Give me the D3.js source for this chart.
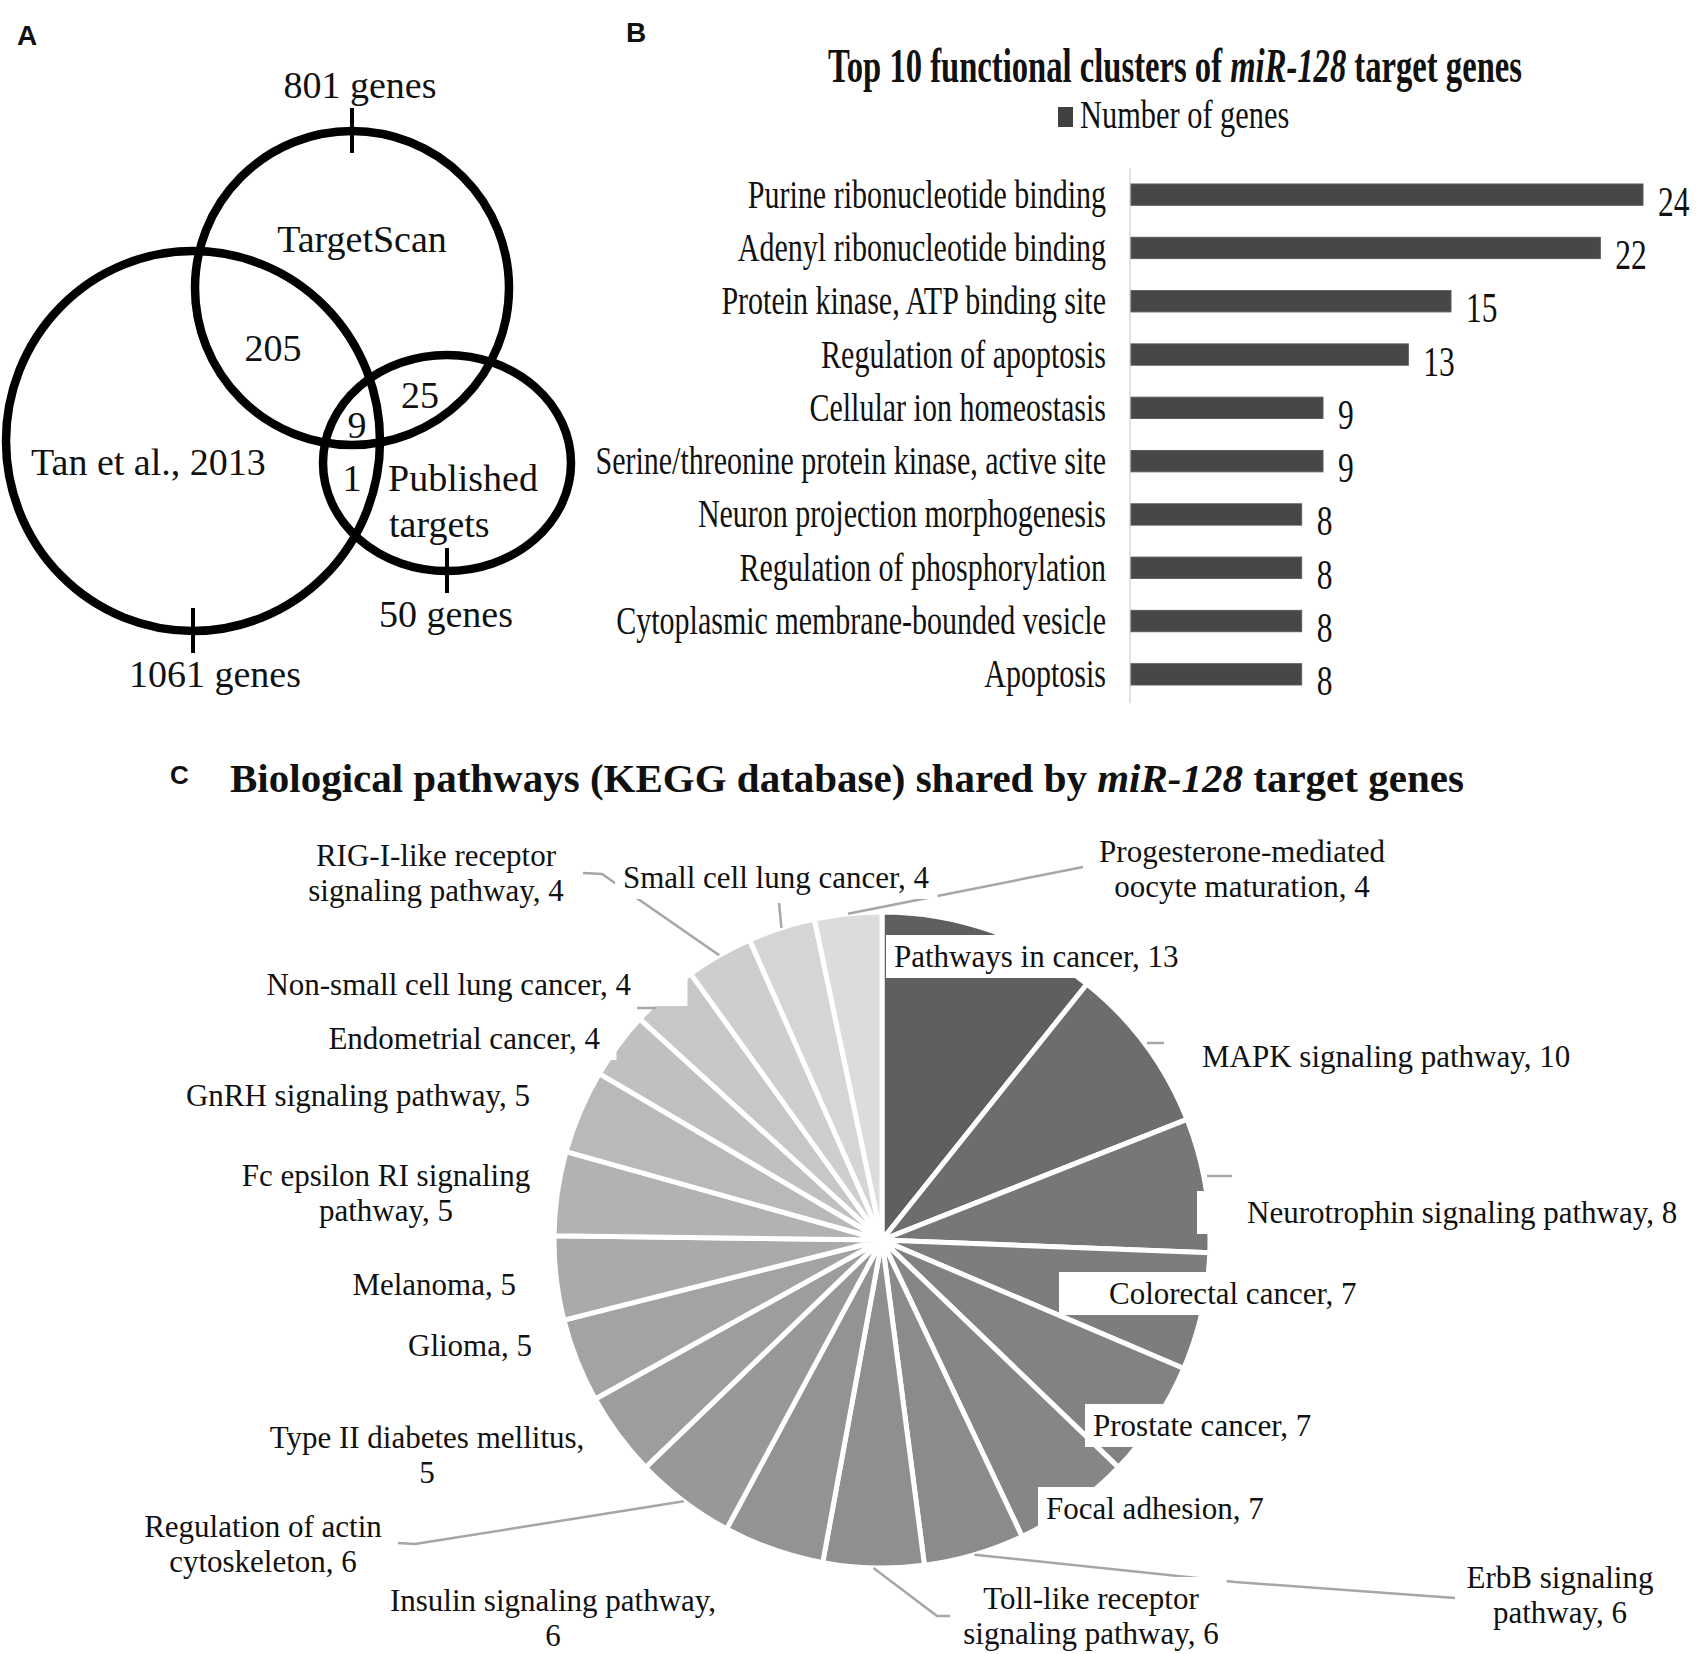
<!DOCTYPE html>
<html lang="en">
<head>
<meta charset="UTF-8" />
<title>miR-128 target genes</title>
<script src="https://cdn.jsdelivr.net/npm/d3@7"></script>
<style>
  body { margin: 0; background: #fff; }
  text { font-family: "Liberation Serif", "Times New Roman", serif; fill: #111; }
  .panel { font-family: "Liberation Sans", Arial, sans-serif; font-weight: bold; font-size: 28px; }
</style>
</head>
<body>
<svg id="fig" width="1700" height="1654"></svg>
<script>
// ---- panel A : venn ----
const vennSets = ["TargetScan", "Tan et al., 2013", "Published targets"];
const vennTotals = [801, 1061, 50];
const vennOverlaps = [205, 25, 9, 1]; // TS&Tan, TS&Pub, all three, Tan&Pub

// ---- panel B : functional clusters ----
const clusters = [
  "Purine ribonucleotide binding",
  "Adenyl ribonucleotide binding",
  "Protein kinase, ATP binding site",
  "Regulation of apoptosis",
  "Cellular ion homeostasis",
  "Serine/threonine protein kinase, active site",
  "Neuron projection morphogenesis",
  "Regulation of phosphorylation",
  "Cytoplasmic membrane-bounded vesicle",
  "Apoptosis"
];
const clusterGenes = [24, 22, 15, 13, 9, 9, 8, 8, 8, 8];

// ---- panel C : KEGG pathways ----
const pathways = [
  "Pathways in cancer", "MAPK signaling pathway", "Neurotrophin signaling pathway",
  "Colorectal cancer", "Prostate cancer", "Focal adhesion", "ErbB signaling pathway",
  "Toll-like receptor signaling pathway", "Insulin signaling pathway",
  "Regulation of actin cytoskeleton", "Type II diabetes mellitus", "Glioma", "Melanoma",
  "Fc epsilon RI signaling pathway", "GnRH signaling pathway", "Endometrial cancer",
  "Non-small cell lung cancer", "RIG-I-like receptor signaling pathway",
  "Small cell lung cancer", "Progesterone-mediated oocyte maturation"
];
const pathwayGenes = [13, 10, 8, 7, 7, 7, 6, 6, 6, 6, 5, 5, 5, 5, 5, 4, 4, 4, 4, 4];
const pathwayGrays = ["#5f5f5f", "#6d6d6d", "#777777", "#7d7d7d", "#828282", "#868686",
  "#8b8b8b", "#8f8f8f", "#939393", "#989898", "#9d9d9d", "#a3a3a3", "#aaaaaa", "#b2b2b2",
  "#b9b9b9", "#c0c0c0", "#c7c7c7", "#cecece", "#d5d5d5", "#dcdcdc"];

const svg = d3.select("#fig");

// panel B text is condensed horizontally like the original figure
function narrowText(parent, x, y, k, size) {
  return parent.append("text")
    .attr("transform", `translate(${x},${y}) scale(${k},1)`)
    .style("font-size", size + "px");
}

// panel letters
svg.append("text").attr("class", "panel").attr("x", 17).attr("y", 45).text("A");
svg.append("text").attr("class", "panel").attr("x", 626).attr("y", 42).text("B");
svg.append("text").attr("class", "panel").attr("x", 170).attr("y", 784).style("font-size", "26px").text("C");

// ================= A =================
const gA = svg.append("g");
const vennShapes = [
  { cx: 352, cy: 288, rx: 157, ry: 157 },
  { cx: 193, cy: 441, rx: 187, ry: 190 },
  { cx: 447, cy: 463, rx: 124, ry: 108 }
];
gA.selectAll("ellipse").data(vennShapes).join("ellipse")
  .attr("cx", d => d.cx).attr("cy", d => d.cy)
  .attr("rx", d => d.rx).attr("ry", d => d.ry)
  .attr("fill", "none").attr("stroke", "#000").attr("stroke-width", 8.5);

// ticks: top of TargetScan, bottom of the others
const tickSide = [-1, 1, 1];
gA.selectAll("line.tick").data(vennShapes).join("line").attr("class", "tick")
  .attr("x1", d => d.cx).attr("x2", d => d.cx)
  .attr("y1", (d, i) => d.cy + tickSide[i] * d.ry - 23)
  .attr("y2", (d, i) => d.cy + tickSide[i] * d.ry + 22)
  .attr("stroke", "#000").attr("stroke-width", 4);

const vennFont = 38;
const totalPos = [[360, 98], [215, 687], [446, 627]];
gA.selectAll("text.total").data(vennTotals).join("text").attr("class", "total")
  .attr("x", (d, i) => totalPos[i][0]).attr("y", (d, i) => totalPos[i][1])
  .attr("text-anchor", "middle").style("font-size", vennFont + "px")
  .text(d => d + " genes");

const overlapPos = [[273, 361], [420, 408], [357, 438], [352, 491]];
gA.selectAll("text.ov").data(vennOverlaps).join("text").attr("class", "ov")
  .attr("x", (d, i) => overlapPos[i][0]).attr("y", (d, i) => overlapPos[i][1])
  .attr("text-anchor", "middle").style("font-size", vennFont + "px")
  .text(d => d);

gA.append("text").attr("x", 362).attr("y", 252).attr("text-anchor", "middle")
  .style("font-size", vennFont + "px").text(vennSets[0]);
gA.append("text").attr("x", 31).attr("y", 475)
  .style("font-size", vennFont + "px").text(vennSets[1]);
const pubWords = vennSets[2].split(" ");
gA.append("text").attr("x", 388).attr("y", 491)
  .style("font-size", vennFont + "px").text(pubWords[0]);
gA.append("text").attr("x", 389).attr("y", 537)
  .style("font-size", vennFont + "px").text(pubWords[1]);

// ================= B =================
const gB = svg.append("g");
const axisX = 1130;
const x = d3.scaleLinear().domain([0, 24]).range([axisX + 1, axisX + 513]);
const y = d3.scaleBand().domain(clusters).range([168, 701]).paddingInner(0.6).paddingOuter(0.3);

const tB = narrowText(gB, 1175, 82, 0.68, 48).attr("text-anchor", "middle").style("font-weight", "bold");
tB.append("tspan").text("Top 10 functional clusters of ");
tB.append("tspan").style("font-style", "italic").text("miR-128");
tB.append("tspan").text(" target genes");

gB.append("rect").attr("x", 1058).attr("y", 107).attr("width", 15).attr("height", 20).attr("fill", "#404040");
narrowText(gB, 1080, 128, 0.76, 40).text("Number of genes");

gB.append("line").attr("x1", axisX).attr("x2", axisX).attr("y1", 168).attr("y2", 703)
  .attr("stroke", "#d9d9d9").attr("stroke-width", 1.5);

gB.selectAll("rect.bar").data(clusters).join("rect").attr("class", "bar")
  .attr("x", x(0)).attr("y", d => y(d))
  .attr("width", (d, i) => x(clusterGenes[i]) - x(0)).attr("height", y.bandwidth())
  .attr("fill", "#474747").attr("stroke", "#5c5c5c").attr("stroke-width", 1);

clusters.forEach((c, i) => {
  narrowText(gB, axisX - 24, y(c) + y.bandwidth() / 2 + 13, 0.75, 40)
    .attr("text-anchor", "end").text(c);
  narrowText(gB, x(clusterGenes[i]) + 15, y(c) + y.bandwidth() / 2 + 21, 0.75, 42)
    .text(clusterGenes[i]);
});

// ================= C =================
const gC = svg.append("g");
const tC = gC.append("text").attr("x", 230).attr("y", 792)
  .style("font-size", "41px").style("font-weight", "bold");
tC.append("tspan").text("Biological pathways (KEGG database) shared by ");
tC.append("tspan").style("font-style", "italic").text("miR-128");
tC.append("tspan").text(" target genes");

const cx = 882, cy = 1240, R = 328;
const pie = d3.pie().sort(null).value(d => d)(pathwayGenes);
const arc = d3.arc().innerRadius(0).outerRadius(R);
const gPie = gC.append("g").attr("transform", `translate(${cx},${cy})`);
gPie.selectAll("path").data(pie).join("path")
  .attr("d", arc).attr("fill", (d, i) => pathwayGrays[i])
  .attr("stroke", "#fff").attr("stroke-width", 5).attr("stroke-linejoin", "round");

function edgePoint(d) {
  const a = (d.startAngle + d.endAngle) / 2;
  return [cx + R * Math.sin(a), cy - R * Math.cos(a)];
}

// label placement (x, first baseline, anchor, words on first line, extra box width toward pie, leader path)
const labelLayout = [
  { x: 894, y: 967, a: "start", extra: 0 },
  { x: 1202, y: 1067, a: "start", extra: 30, lead: [[1147, 1043], [1164, 1043]] },
  { x: 1247, y: 1223, a: "start", extra: 42, lead: [[1207, 1176], [1232, 1176]] },
  { x: 1109, y: 1304, a: "start", extra: 42 },
  { x: 1093, y: 1436, a: "start", extra: 0 },
  { x: 1046, y: 1519, a: "start", extra: 0 },
  { x: 1560, y: 1588, a: "middle", br: 2, lead: [[1455, 1598], [1235, 1582]] },
  { x: 1091, y: 1609, a: "middle", br: 2, lead: [[950, 1616], [937, 1616]] },
  { x: 553, y: 1611, a: "middle", br: 3 },
  { x: 263, y: 1537, a: "middle", br: 3, lead: [[398, 1543], [415, 1544]] },
  { x: 427, y: 1448, a: "middle", br: 4 },
  { x: 532, y: 1356, a: "end" },
  { x: 516, y: 1295, a: "end" },
  { x: 386, y: 1186, a: "middle", br: 4 },
  { x: 530, y: 1106, a: "end" },
  { x: 600, y: 1049, a: "end", extra: 8 },
  { x: 631, y: 995, a: "end", extra: 48, lead: [[637, 1008], [656, 1008]] },
  { x: 436, y: 866, a: "middle", br: 2, lead: [[583, 873], [602, 874]] },
  { x: 776, y: 888, a: "middle", lead: [[779, 903]] },
  { x: 1242, y: 862, a: "middle", br: 1, lead: [[1083, 867]] }
];

// leaders first, boxes cover them
const withSlice = [6, 7, 9, 17, 18, 19];
labelLayout.forEach((L, i) => {
  if (!L.lead) return;
  const pts = L.lead.slice();
  if (withSlice.includes(i)) pts.push(edgePoint(pie[i]));
  gC.append("path").attr("d", d3.line()(pts))
    .attr("fill", "none").attr("stroke", "#a6a6a6").attr("stroke-width", 2.5);
});

const fontC = 31, lineH = 35;
labelLayout.forEach((L, i) => {
  const full = `${pathways[i]}, ${pathwayGenes[i]}`;
  const words = full.split(" ");
  const lines = L.br ? [words.slice(0, L.br).join(" "), words.slice(L.br).join(" ")] : [full];
  const g = gC.append("g");
  const box = g.append("rect").attr("fill", "#fff");
  const t = g.append("text").attr("text-anchor", L.a).style("font-size", fontC + "px");
  lines.forEach((s, j) => t.append("tspan").attr("x", L.x).attr("y", L.y + j * lineH).text(s));
  const bb = t.node().getBBox();
  let x0 = bb.x - 8, x1 = bb.x + bb.width + 8;
  if (L.extra) { if (L.a === "start") x0 -= L.extra; else x1 += L.extra; }
  box.attr("x", x0).attr("y", bb.y - 4).attr("width", x1 - x0).attr("height", Math.min(bb.height + 8, 1654 - bb.y + 4));
});
</script>
</body>
</html>
